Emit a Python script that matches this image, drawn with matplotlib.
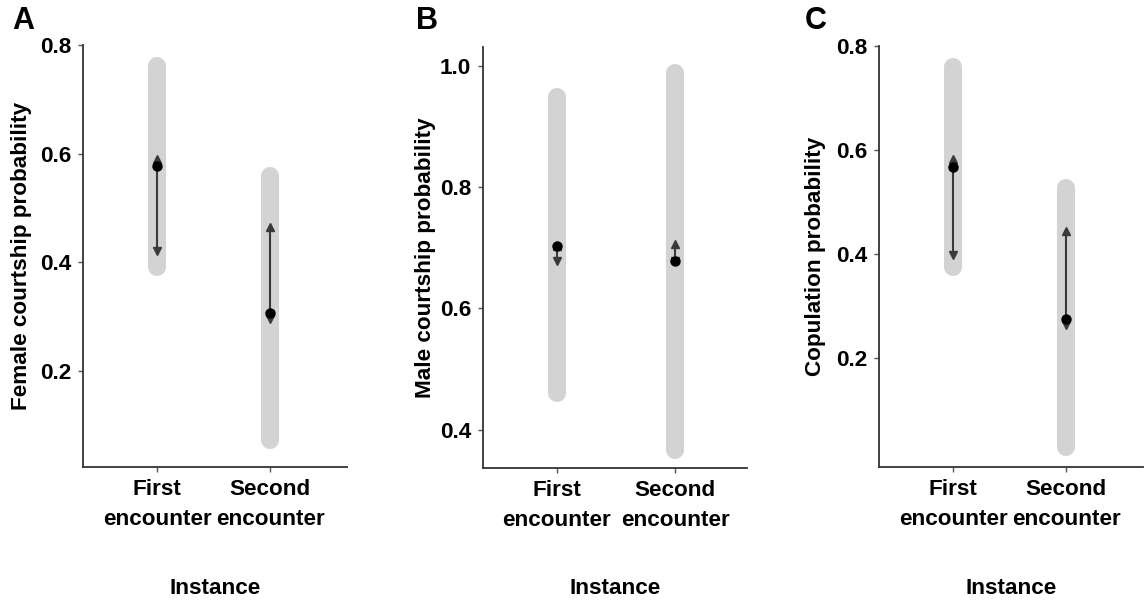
import matplotlib
matplotlib.use("Agg")
import matplotlib.pyplot as plt

plt.rcParams['font.family'] = ['Liberation Sans', 'DejaVu Sans']
plt.rcParams['font.weight'] = 'bold'

categories = ["First\nencounter", "Second\nencounter"]
panel_letters = ["A", "B", "C"]
ylabels = ["Female courtship probability", "Male courtship probability", "Copulation probability"]

# grey interval bars (low, high)
bar_low_A = [0.392, 0.072]
bar_high_A = [0.762, 0.558]
bar_low_B = [0.461, 0.367]
bar_high_B = [0.950, 0.989]
bar_low_C = [0.375, 0.03]
bar_high_C = [0.76, 0.527]

# point estimates
point_A = [0.578, 0.306]
point_B = [0.703, 0.678]
point_C = [0.568, 0.276]

# arrow ranges (low, high)
arrow_low_A = [0.42, 0.296]
arrow_high_A = [0.590, 0.465]
arrow_low_B = [0.678, 0.678]
arrow_high_B = [0.703, 0.706]
arrow_low_C = [0.398, 0.264]
arrow_high_C = [0.583, 0.445]

yticks_A = [0.2, 0.4, 0.6, 0.8]
yticks_B = [0.4, 0.6, 0.8, 1.0]
yticks_C = [0.2, 0.4, 0.6, 0.8]

panels = [
    dict(bl=bar_low_A, bh=bar_high_A, pt=point_A, al=arrow_low_A, ah=arrow_high_A,
         yt=yticks_A, ylim=(0.023, 0.80), pos=(83, 467, 347, 45), xlim=(-0.655, 1.68),
         letter_x=12, ylab_x=22),
    dict(bl=bar_low_B, bh=bar_high_B, pt=point_B, al=arrow_low_B, ah=arrow_high_B,
         yt=yticks_B, ylim=(0.3365, 1.032), pos=(483, 468, 747, 47), xlim=(-0.627, 1.61),
         letter_x=416, ylab_x=426),
    dict(bl=bar_low_C, bh=bar_high_C, pt=point_C, al=arrow_low_C, ah=arrow_high_C,
         yt=yticks_C, ylim=(-0.009, 0.80), pos=(879, 467, 1143, 46), xlim=(-0.655, 1.68),
         letter_x=805, ylab_x=815),
]

W, H = 1146, 604
FS = 16.2
fig = plt.figure(figsize=(W / 100, H / 100), dpi=100)

for i, p in enumerate(panels):
    l, b, r, t = p['pos']
    ax = fig.add_axes([l / W, 1 - b / H, (r - l) / W, (b - t) / H])
    x = list(range(len(categories)))
    for xi in x:
        ax.plot([xi, xi], [p['bl'][xi], p['bh'][xi]], color='#d3d3d3', lw=13,
                solid_capstyle='round', zorder=1)
        ax.plot([xi, xi], [p['al'][xi], p['ah'][xi]], color='#3a3a3a', lw=1.5, zorder=2)
        ax.plot([xi], [p['ah'][xi]], marker='^', color='#3a3a3a', ms=5.5, zorder=3)
        ax.plot([xi], [p['al'][xi]], marker='v', color='#3a3a3a', ms=5.5, zorder=3)
        ax.plot([xi], [p['pt'][xi]], marker='o', color='black', ms=6.5, zorder=4)
    ax.set_xlim(*p['xlim'])
    ax.set_ylim(*p['ylim'])
    ax.set_xticks(x)
    ax.set_xticklabels(categories, fontsize=FS, fontweight='bold', linespacing=1.6)
    ax.set_yticks(p['yt'])
    ax.set_yticklabels([f"{v:.1f}" for v in p['yt']], fontsize=FS, fontweight='bold')
    for s in ['top', 'right']:
        ax.spines[s].set_visible(False)
    for s in ['left', 'bottom']:
        ax.spines[s].set_color('#333333')
        ax.spines[s].set_linewidth(1.3)
    ax.tick_params(axis='both', length=3.5, width=1, color='#555555', pad=5)
    ax.set_ylabel(ylabels[i], fontsize=FS, fontweight='bold', va='center')
    ax.yaxis.set_label_coords((p['ylab_x'] - l) / (r - l), 0.5)
    ax.set_xlabel("Instance", fontsize=FS, fontweight='bold')
    ax.xaxis.set_label_coords(0.5, -(588 - b) / (b - t), transform=ax.transAxes)
    ax.xaxis.label.set_va('center')
    fig.text(p['letter_x'] / W, 1 - 21 / H, panel_letters[i], fontsize=22,
             fontweight='bold', va='center', ha='left')

fig.savefig("out.png", dpi=100)
